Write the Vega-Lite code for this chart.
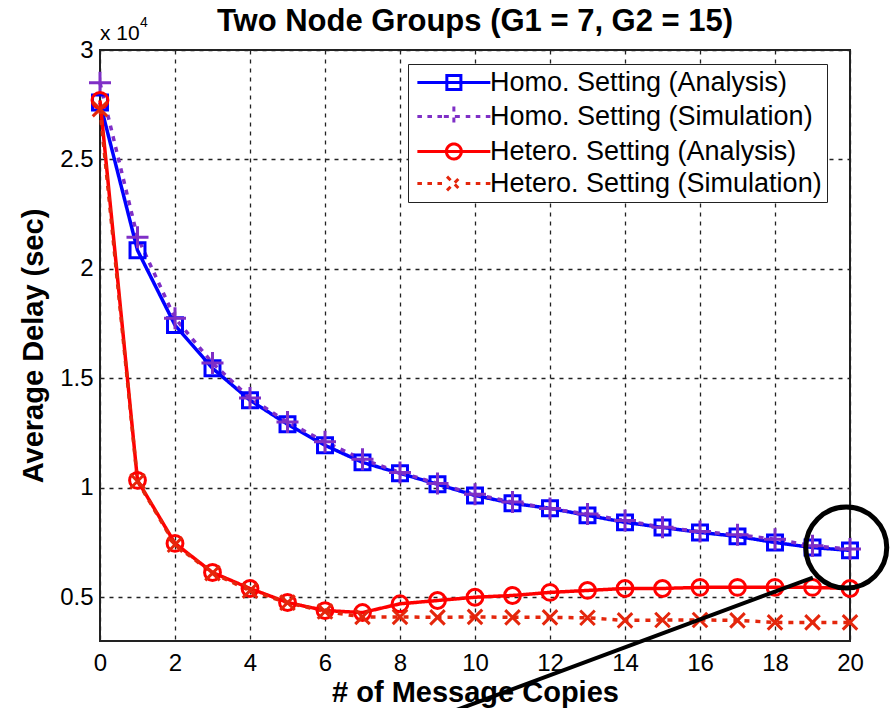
{
  "$schema": "https://vega.github.io/schema/vega-lite/v6.json",
  "width": 750,
  "height": 591,
  "autosize": {"type": "none"},
  "padding": {"left": 100, "top": 50, "right": 43, "bottom": 67},
  "background": "white",
  "config": {
    "view": {"stroke": "#222", "strokeWidth": 2},
    "font": "Liberation Sans"
  },
  "title": {
    "text": "Two Node Groups (G1 = 7, G2 = 15)",
    "font": "Liberation Sans",
    "fontSize": 31,
    "fontWeight": "bold",
    "color": "black",
    "anchor": "middle",
    "frame": "group",
    "offset": 12,
    "dy": 34
  },
  "datasets": {
    "delay": [
      {"series": "Homo. Setting (Analysis)", "x": 0, "y": 27600},
      {"series": "Homo. Setting (Analysis)", "x": 1, "y": 20850},
      {"series": "Homo. Setting (Analysis)", "x": 2, "y": 17430},
      {"series": "Homo. Setting (Analysis)", "x": 3, "y": 15460},
      {"series": "Homo. Setting (Analysis)", "x": 4, "y": 14000},
      {"series": "Homo. Setting (Analysis)", "x": 5, "y": 12900},
      {"series": "Homo. Setting (Analysis)", "x": 6, "y": 11940},
      {"series": "Homo. Setting (Analysis)", "x": 7, "y": 11160},
      {"series": "Homo. Setting (Analysis)", "x": 8, "y": 10660},
      {"series": "Homo. Setting (Analysis)", "x": 9, "y": 10160},
      {"series": "Homo. Setting (Analysis)", "x": 10, "y": 9650},
      {"series": "Homo. Setting (Analysis)", "x": 11, "y": 9290},
      {"series": "Homo. Setting (Analysis)", "x": 12, "y": 9060},
      {"series": "Homo. Setting (Analysis)", "x": 13, "y": 8740},
      {"series": "Homo. Setting (Analysis)", "x": 14, "y": 8420},
      {"series": "Homo. Setting (Analysis)", "x": 15, "y": 8190},
      {"series": "Homo. Setting (Analysis)", "x": 16, "y": 7960},
      {"series": "Homo. Setting (Analysis)", "x": 17, "y": 7780},
      {"series": "Homo. Setting (Analysis)", "x": 18, "y": 7500},
      {"series": "Homo. Setting (Analysis)", "x": 19, "y": 7270},
      {"series": "Homo. Setting (Analysis)", "x": 20, "y": 7140},
      {"series": "Homo. Setting (Simulation)", "x": 0, "y": 28500},
      {"series": "Homo. Setting (Simulation)", "x": 1, "y": 21450},
      {"series": "Homo. Setting (Simulation)", "x": 2, "y": 17750},
      {"series": "Homo. Setting (Simulation)", "x": 3, "y": 15700},
      {"series": "Homo. Setting (Simulation)", "x": 4, "y": 14100},
      {"series": "Homo. Setting (Simulation)", "x": 5, "y": 13000},
      {"series": "Homo. Setting (Simulation)", "x": 6, "y": 12100},
      {"series": "Homo. Setting (Simulation)", "x": 7, "y": 11300},
      {"series": "Homo. Setting (Simulation)", "x": 8, "y": 10700},
      {"series": "Homo. Setting (Simulation)", "x": 9, "y": 10200},
      {"series": "Homo. Setting (Simulation)", "x": 10, "y": 9700},
      {"series": "Homo. Setting (Simulation)", "x": 11, "y": 9350},
      {"series": "Homo. Setting (Simulation)", "x": 12, "y": 9050},
      {"series": "Homo. Setting (Simulation)", "x": 13, "y": 8800},
      {"series": "Homo. Setting (Simulation)", "x": 14, "y": 8500},
      {"series": "Homo. Setting (Simulation)", "x": 15, "y": 8200},
      {"series": "Homo. Setting (Simulation)", "x": 16, "y": 8000},
      {"series": "Homo. Setting (Simulation)", "x": 17, "y": 7850},
      {"series": "Homo. Setting (Simulation)", "x": 18, "y": 7650},
      {"series": "Homo. Setting (Simulation)", "x": 19, "y": 7350},
      {"series": "Homo. Setting (Simulation)", "x": 20, "y": 7200},
      {"series": "Hetero. Setting (Analysis)", "x": 0, "y": 27700},
      {"series": "Hetero. Setting (Analysis)", "x": 1, "y": 10340},
      {"series": "Hetero. Setting (Analysis)", "x": 2, "y": 7460},
      {"series": "Hetero. Setting (Analysis)", "x": 3, "y": 6130},
      {"series": "Hetero. Setting (Analysis)", "x": 4, "y": 5400},
      {"series": "Hetero. Setting (Analysis)", "x": 5, "y": 4760},
      {"series": "Hetero. Setting (Analysis)", "x": 6, "y": 4390},
      {"series": "Hetero. Setting (Analysis)", "x": 7, "y": 4300},
      {"series": "Hetero. Setting (Analysis)", "x": 8, "y": 4700},
      {"series": "Hetero. Setting (Analysis)", "x": 9, "y": 4850},
      {"series": "Hetero. Setting (Analysis)", "x": 10, "y": 5000},
      {"series": "Hetero. Setting (Analysis)", "x": 11, "y": 5080},
      {"series": "Hetero. Setting (Analysis)", "x": 12, "y": 5220},
      {"series": "Hetero. Setting (Analysis)", "x": 13, "y": 5310},
      {"series": "Hetero. Setting (Analysis)", "x": 14, "y": 5400},
      {"series": "Hetero. Setting (Analysis)", "x": 15, "y": 5400},
      {"series": "Hetero. Setting (Analysis)", "x": 16, "y": 5450},
      {"series": "Hetero. Setting (Analysis)", "x": 17, "y": 5450},
      {"series": "Hetero. Setting (Analysis)", "x": 18, "y": 5450},
      {"series": "Hetero. Setting (Analysis)", "x": 19, "y": 5450},
      {"series": "Hetero. Setting (Analysis)", "x": 20, "y": 5400},
      {"series": "Hetero. Setting (Simulation)", "x": 0, "y": 27300},
      {"series": "Hetero. Setting (Simulation)", "x": 1, "y": 10300},
      {"series": "Hetero. Setting (Simulation)", "x": 2, "y": 7400},
      {"series": "Hetero. Setting (Simulation)", "x": 3, "y": 6100},
      {"series": "Hetero. Setting (Simulation)", "x": 4, "y": 5300},
      {"series": "Hetero. Setting (Simulation)", "x": 5, "y": 4750},
      {"series": "Hetero. Setting (Simulation)", "x": 6, "y": 4350},
      {"series": "Hetero. Setting (Simulation)", "x": 7, "y": 4100},
      {"series": "Hetero. Setting (Simulation)", "x": 8, "y": 4100},
      {"series": "Hetero. Setting (Simulation)", "x": 9, "y": 4080},
      {"series": "Hetero. Setting (Simulation)", "x": 10, "y": 4100},
      {"series": "Hetero. Setting (Simulation)", "x": 11, "y": 4080},
      {"series": "Hetero. Setting (Simulation)", "x": 12, "y": 4080},
      {"series": "Hetero. Setting (Simulation)", "x": 13, "y": 4060},
      {"series": "Hetero. Setting (Simulation)", "x": 14, "y": 3940},
      {"series": "Hetero. Setting (Simulation)", "x": 15, "y": 3960},
      {"series": "Hetero. Setting (Simulation)", "x": 16, "y": 3960},
      {"series": "Hetero. Setting (Simulation)", "x": 17, "y": 3940},
      {"series": "Hetero. Setting (Simulation)", "x": 18, "y": 3850},
      {"series": "Hetero. Setting (Simulation)", "x": 19, "y": 3850},
      {"series": "Hetero. Setting (Simulation)", "x": 20, "y": 3850}
    ],
    "note": [
      {"kind": "circle", "x": 19.9, "y": 7270},
      {"kind": "line", "x": 19.01, "y": 5900, "x2": 7.31, "y2": -1550},
      {"kind": "label", "x": 0, "y": 30000}
    ]
  },
  "encoding": {
    "x": {
      "field": "x",
      "type": "quantitative",
      "scale": {"domain": [0, 20], "nice": false, "zero": false},
      "axis": {
        "values": [0, 2, 4, 6, 8, 10, 12, 14, 16, 18, 20],
        "grid": true,
        "gridDash": [4, 5],
        "gridColor": "#222",
        "gridWidth": 1.3,
        "gridOpacity": 1,
        "domain": false,
        "ticks": false,
        "labelFlush": false,
        "labelOverlap": false,
        "labelFont": "Liberation Sans",
        "labelFontSize": 24,
        "labelColor": "black",
        "labelPadding": 10,
        "title": "# of Message Copies",
        "titleFont": "Liberation Sans",
        "titleFontSize": 29,
        "titleFontWeight": "bold",
        "titleColor": "black",
        "titlePadding": 3
      }
    },
    "y": {
      "field": "y",
      "type": "quantitative",
      "scale": {"domain": [3000, 30000], "nice": false, "zero": false},
      "axis": {
        "values": [5000, 10000, 15000, 20000, 25000, 30000],
        "labelExpr": "datum.value / 10000",
        "grid": true,
        "gridDash": [4, 5],
        "gridColor": "#222",
        "gridWidth": 1.3,
        "gridOpacity": 1,
        "domain": false,
        "ticks": false,
        "labelFlush": false,
        "labelOverlap": false,
        "labelFont": "Liberation Sans",
        "labelFontSize": 24,
        "labelColor": "black",
        "labelPadding": 7,
        "title": "Average Delay (sec)",
        "titleFont": "Liberation Sans",
        "titleFontSize": 29,
        "titleFontWeight": "bold",
        "titleColor": "black",
        "titlePadding": 11
      }
    }
  },
  "layer": [
    {
      "data": {"name": "delay"},
      "mark": {"type": "line", "strokeWidth": 3.5, "strokeCap": "butt"},
      "encoding": {
        "color": {
          "field": "series",
          "type": "nominal",
          "scale": {
            "domain": ["Homo. Setting (Analysis)", "Homo. Setting (Simulation)", "Hetero. Setting (Analysis)", "Hetero. Setting (Simulation)"],
            "range": ["#0000ff", "#7f2fc6", "#ff0000", "#e4260c"]
          }
        },
        "strokeDash": {
          "field": "series",
          "type": "nominal",
          "scale": {
            "domain": ["Homo. Setting (Analysis)", "Homo. Setting (Simulation)", "Hetero. Setting (Analysis)", "Hetero. Setting (Simulation)"],
            "range": [[1, 0], [5, 6], [1, 0], [5, 6]]
          },
          "legend": null
        }
      }
    },
    {
      "data": {"name": "delay"},
      "transform": [{"filter": "datum.series === 'Homo. Setting (Analysis)'"}],
      "mark": {"type": "point", "filled": false, "strokeWidth": 3, "opacity": 1, "size": 484, "shape": "M-0.68,-0.68H0.68V0.68H-0.68Z"},
      "encoding": {"color": {"field": "series", "type": "nominal", "scale": {"domain": ["Homo. Setting (Analysis)", "Homo. Setting (Simulation)", "Hetero. Setting (Analysis)", "Hetero. Setting (Simulation)"]}}}
    },
    {
      "data": {"name": "delay"},
      "transform": [{"filter": "datum.series === 'Homo. Setting (Simulation)'"}],
      "mark": {"type": "point", "filled": false, "strokeWidth": 3, "opacity": 1, "size": 484, "shape": "M-1,0H1M0,-1V1"},
      "encoding": {"color": {"field": "series", "type": "nominal", "scale": {"domain": ["Homo. Setting (Analysis)", "Homo. Setting (Simulation)", "Hetero. Setting (Analysis)", "Hetero. Setting (Simulation)"]}}}
    },
    {
      "data": {"name": "delay"},
      "transform": [{"filter": "datum.series === 'Hetero. Setting (Analysis)'"}],
      "mark": {"type": "point", "filled": false, "strokeWidth": 3, "opacity": 1, "size": 484, "shape": "M0.72,0A0.72,0.72 0 1,1 -0.72,0A0.72,0.72 0 1,1 0.72,0"},
      "encoding": {"color": {"field": "series", "type": "nominal", "scale": {"domain": ["Homo. Setting (Analysis)", "Homo. Setting (Simulation)", "Hetero. Setting (Analysis)", "Hetero. Setting (Simulation)"]}}}
    },
    {
      "data": {"name": "delay"},
      "transform": [{"filter": "datum.series === 'Hetero. Setting (Simulation)'"}],
      "mark": {"type": "point", "filled": false, "strokeWidth": 3, "opacity": 1, "size": 484, "shape": "M-0.66,-0.66L0.66,0.66M-0.66,0.66L0.66,-0.66"},
      "encoding": {"color": {"field": "series", "type": "nominal", "scale": {"domain": ["Homo. Setting (Analysis)", "Homo. Setting (Simulation)", "Hetero. Setting (Analysis)", "Hetero. Setting (Simulation)"]}}}
    },
    {
      "data": {"name": "delay"},
      "mark": {"type": "point", "filled": false, "opacity": 0},
      "encoding": {
        "color": {
          "field": "series",
          "type": "nominal",
          "scale": {"domain": ["Homo. Setting (Analysis)", "Homo. Setting (Simulation)", "Hetero. Setting (Analysis)", "Hetero. Setting (Simulation)"]},
          "legend": {
            "title": null,
            "orient": "none",
            "legendX": 308,
            "legendY": 14,
            "padding": 5,
            "strokeColor": "#222",
            "fillColor": "white",
            "labelFont": "Liberation Sans",
            "labelFontSize": 27,
            "labelColor": "black",
            "labelLimit": 600,
            "labelOffset": 50,
            "symbolSize": 333,
            "symbolStrokeWidth": 3,
            "symbolOpacity": 1,
            "rowPadding": 4,
            "encode": {
              "legend": {"update": {"strokeWidth": {"value": 1.5}}},
              "symbols": {
                "update": {
                  "fill": {"value": "transparent"},
                  "opacity": {"value": 1},
                  "strokeWidth": {"value": 3}
                }
              }
            }
          }
        },
        "shape": {
          "field": "series",
          "type": "nominal",
          "scale": {
            "domain": ["Homo. Setting (Analysis)", "Homo. Setting (Simulation)", "Hetero. Setting (Analysis)", "Hetero. Setting (Simulation)"],
            "range": [
              "M-1,0H7M2.23,-0.77H3.77V0.77H2.23Z",
              "M-1,0H-0.5M0.1,0H0.6M1.2,0H1.7M4.3,0H4.8M5.4,0H5.9M6.5,0H7M1.9,0H4.1M3,-1.1V1.1",
              "M-1,0H7M3.82,0A0.82,0.82 0 1,1 2.18,0A0.82,0.82 0 1,1 3.82,0",
              "M-1,0H-0.5M0.1,0H0.6M1.2,0H1.7M4.3,0H4.8M5.4,0H5.9M6.5,0H7M2.25,-0.75L3.75,0.75M2.25,0.75L3.75,-0.75"
            ]
          },
          "legend": {
            "title": null,
            "orient": "none",
            "legendX": 308,
            "legendY": 14,
            "padding": 5,
            "strokeColor": "#222",
            "fillColor": "white",
            "labelFont": "Liberation Sans",
            "labelFontSize": 27,
            "labelColor": "black",
            "labelLimit": 600,
            "labelOffset": 50,
            "symbolSize": 333,
            "symbolStrokeWidth": 3,
            "symbolOpacity": 1,
            "rowPadding": 4,
            "encode": {
              "legend": {"update": {"strokeWidth": {"value": 1.5}}},
              "symbols": {
                "update": {
                  "fill": {"value": "transparent"},
                  "opacity": {"value": 1},
                  "strokeWidth": {"value": 3}
                }
              }
            }
          }
        }
      }
    },
    {
      "data": {"name": "note"},
      "transform": [{"filter": "datum.kind === 'circle'"}],
      "mark": {"type": "point", "shape": "circle", "filled": false, "color": "black", "strokeWidth": 5, "size": 6561, "opacity": 1}
    },
    {
      "data": {"name": "note"},
      "transform": [{"filter": "datum.kind === 'line'"}],
      "mark": {"type": "rule", "color": "black", "strokeWidth": 4},
      "encoding": {
        "x2": {"field": "x2"},
        "y2": {"field": "y2"}
      }
    },
    {
      "data": {"name": "note"},
      "transform": [{"filter": "datum.kind === 'label'"}],
      "mark": {"type": "text", "text": "x 10", "align": "left", "baseline": "alphabetic", "dx": 0, "dy": -10, "font": "Liberation Sans", "fontSize": 21, "color": "black"}
    },
    {
      "data": {"name": "note"},
      "transform": [{"filter": "datum.kind === 'label'"}],
      "mark": {"type": "text", "text": "4", "align": "left", "baseline": "alphabetic", "dx": 40, "dy": -23, "font": "Liberation Sans", "fontSize": 14, "color": "black"}
    }
  ]
}
